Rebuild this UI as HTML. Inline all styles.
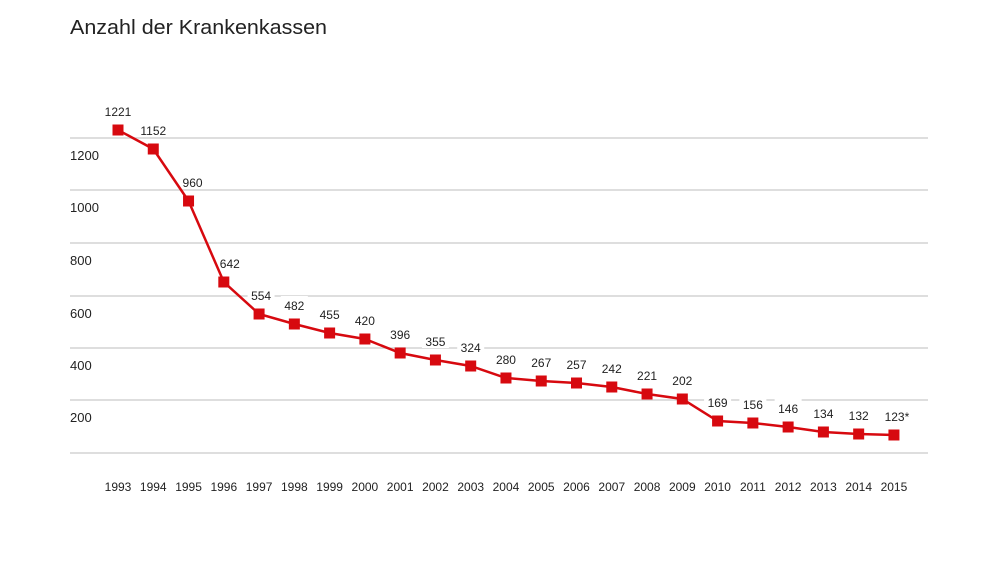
<!DOCTYPE html>
<html><head><meta charset="utf-8"><style>
body{margin:0;background:#fff;}
svg text{font-family:"Liberation Sans",sans-serif;fill:#222;}
</style></head><body>
<svg width="1000" height="562" xmlns="http://www.w3.org/2000/svg">
<rect width="1000" height="562" fill="#fff"/>
<text x="70" y="34" font-size="20" textLength="257" lengthAdjust="spacingAndGlyphs" style="fill:#222">Anzahl der Krankenkassen</text>
<g stroke="#d4d4d4" stroke-width="1.5">
<line x1="70" y1="138" x2="928" y2="138"/>
<line x1="70" y1="190" x2="928" y2="190"/>
<line x1="70" y1="243" x2="928" y2="243"/>
<line x1="70" y1="296" x2="928" y2="296"/>
<line x1="70" y1="348" x2="928" y2="348"/>
<line x1="70" y1="400" x2="928" y2="400"/>
<line x1="70" y1="453" x2="928" y2="453"/>
</g>
<g font-size="13">
<text x="70" y="160">1200</text>
<text x="70" y="212">1000</text>
<text x="70" y="265">800</text>
<text x="70" y="318">600</text>
<text x="70" y="370">400</text>
<text x="70" y="422">200</text>
</g>
<g id="pts"></g>
<script>
var ys=[130,149,201,282,314,324,333,339,353,360,366,378,381,383,387,394,399,421,423,427,432,434,435];
var vals=["1221","1152","960","642","554","482","455","420","396","355","324","280","267","257","242","221","202","169","156","146","134","132","123*"];
var dx=[0,0,4,6,2,0,0,0,0,0,0,0,0,0,0,0,0,0,0,0,0,0,3];
var ns="http://www.w3.org/2000/svg",g=document.getElementById("pts");
var d="";
for(var i=0;i<23;i++){var x=118+i*35.27;d+=(i?"L":"M")+x+" "+ys[i];}
var p=document.createElementNS(ns,"path");p.setAttribute("d",d);p.setAttribute("stroke","#d7090f");p.setAttribute("stroke-width","2.5");p.setAttribute("fill","none");g.appendChild(p);
for(var i=0;i<23;i++){var x=118+i*35.27;
var r=document.createElementNS(ns,"rect");r.setAttribute("x",x-5.5);r.setAttribute("y",ys[i]-5.5);r.setAttribute("width",11);r.setAttribute("height",11);r.setAttribute("fill","#d7090f");g.appendChild(r);
var lw=vals[i].length*7+6;
var bg=document.createElementNS(ns,"rect");bg.setAttribute("x",x+dx[i]-lw/2);bg.setAttribute("y",ys[i]-28);bg.setAttribute("width",lw);bg.setAttribute("height",16);bg.setAttribute("fill","#fff");g.insertBefore(bg,p);
var t=document.createElementNS(ns,"text");t.setAttribute("x",x+dx[i]);t.setAttribute("y",ys[i]-14);t.setAttribute("text-anchor","middle");t.setAttribute("font-size","12");t.textContent=vals[i];g.appendChild(t);
var y=document.createElementNS(ns,"text");y.setAttribute("x",x);y.setAttribute("y",491);y.setAttribute("text-anchor","middle");y.setAttribute("font-size","12");y.textContent=1993+i;g.appendChild(y);
}
</script>
</svg>
</body></html>
